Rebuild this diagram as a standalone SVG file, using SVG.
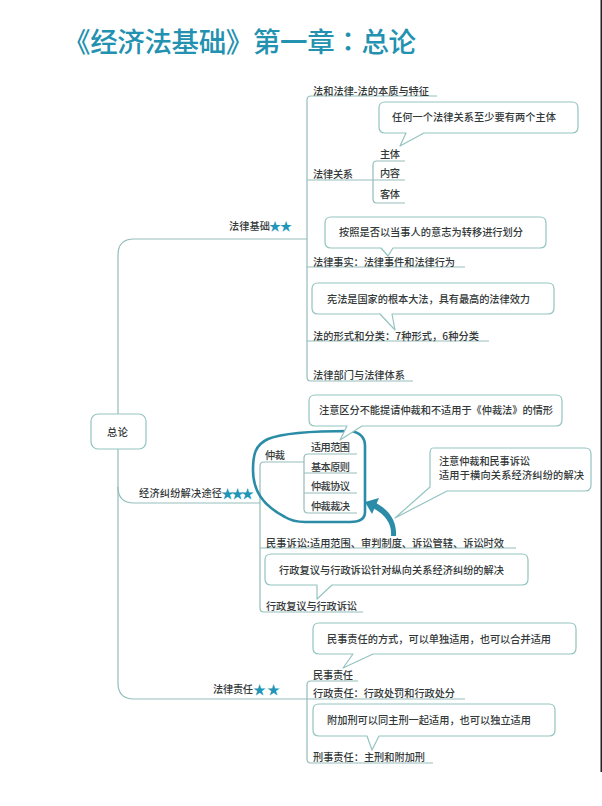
<svg xmlns="http://www.w3.org/2000/svg" width="602" height="806" viewBox="0 0 602 806">
<style>
text{font-family:"Noto Sans CJK SC","Noto Sans",sans-serif;font-size:10.2px;font-weight:500;fill:#333839}
.t{font-family:"Noto Sans CJK TC","Noto Sans CJK SC",sans-serif;font-size:27.5px;fill:#2391b0;font-weight:500}
.s{fill:#2196b8}
.l{fill:none;stroke:#93bdbb;stroke-width:1.2}
.c{fill:#fff;stroke:#93c4c0;stroke-width:1.2;stroke-linejoin:round}
.b{fill:none;stroke:#2a8ca6;stroke-width:2.6;stroke-linecap:round}
.a{fill:#2a8ca6}
</style>
<rect width="602" height="806" fill="#fff"/>
<rect x="600.5" y="0" width="1.5" height="772" fill="#222"/>
<text class="t" x="63" y="52" textLength="353">《经济法基础》第一章：总论</text>

<g id="connectors">
<path class="l" d="M437 96H311Q307 96 307 100V377Q307 381 311 381H413"/>
<path class="l" d="M307 180H405M405 161H377Q373 161 373 165V199Q373 203 377 203H405"/>
<path class="l" d="M307 239H134Q118 239 118 255V414M118 449V683Q118 699 134 699H465"/>
<path class="l" d="M118 487Q118 503 134 503H260"/>
<path class="l" d="M307 267H465M307 341H489"/>
<path class="l" d="M264 462H304M260 608V466Q260 462 264 462"/>
<path class="l" d="M357 454H308Q304 454 304 458V509Q304 513 308 513H357M304 473H357M304 493H357"/>
<path class="l" d="M260 548H516M260 608Q260 612 264 612H363"/>
<path class="l" d="M358 681H311Q307 681 307 685V759Q307 763 311 763H433"/>
<path class="b" d="M365 446Q365 433 350 431C320 431 285 432 268 439C255 445 253 455 253 470C253 490 262 505 285 517Q293 522 305 522H350Q365 522 365 512Z"/>
<path class="a" d="M391 536C392 524 386 514 369 506L372 501C390 509 397 522 396 536Z"/>
<path class="a" d="M365 502L379 498L372 514Z"/>
</g>

<g id="n-zonglun"><rect class="c" x="91" y="414" width="55" height="35" rx="7"/><text x="107" y="436" textLength="21">总论</text></g>
<g id="n-falvjichu"><text x="229" y="230" textLength="41">法律基础</text><text x="269" y="231" style="font-size:12px;fill:#2196b8" textLength="23">★★</text></g>
<g id="n-jiufen"><text x="139" y="497" textLength="83">经济纠纷解决途径</text><text x="221" y="498" style="font-size:13px;fill:#2196b8" textLength="33">★★★</text></g>
<g id="n-zeren"><text x="213" y="693" textLength="40">法律责任</text><text x="253" y="694" style="font-size:13px;fill:#2196b8" textLength="27">★★</text></g>

<g id="n-benzhi"><text x="313" y="95" textLength="116">法和法律-法的本质与特征</text></g>
<g id="n-guanxi"><text x="313" y="178" textLength="40">法律关系</text></g>
<g id="n-zhuti"><text x="380" y="158" textLength="20">主体</text></g>
<g id="n-neirong"><text x="380" y="177" textLength="20">内容</text></g>
<g id="n-keti"><text x="380" y="198" textLength="20">客体</text></g>
<g id="n-shishi"><text x="313" y="266" textLength="142">法律事实：法律事件和法律行为</text></g>
<g id="n-xingshi"><text x="313" y="340" textLength="166">法的形式和分类：7种形式，6种分类</text></g>
<g id="n-bumen"><text x="313" y="379" textLength="92">法律部门与法律体系</text></g>
<g id="n-zhongcai"><text x="265" y="459" textLength="20">仲裁</text></g>
<g id="n-shiyong"><text x="311" y="451" textLength="39">适用范围</text></g>
<g id="n-yuanze"><text x="311" y="471" textLength="39">基本原则</text></g>
<g id="n-xieyi"><text x="311" y="490" textLength="39">仲裁协议</text></g>
<g id="n-caijue"><text x="311" y="510" textLength="39">仲裁裁决</text></g>
<g id="n-minsusong"><text x="266" y="547" textLength="238">民事诉讼:适用范围、审判制度、诉讼管辖、诉讼时效</text></g>
<g id="n-xingzheng"><text x="266" y="610" textLength="91">行政复议与行政诉讼</text></g>
<g id="n-minshi"><text x="313" y="679" textLength="40">民事责任</text></g>
<g id="n-xingzhengzr"><text x="313" y="697" textLength="142">行政责任：行政处罚和行政处分</text></g>
<g id="n-xingshizr"><text x="313" y="761" textLength="112">刑事责任：主刑和附加刑</text></g>

<g id="n-note1"><path class="c" d="M385 102H572Q578 102 578 108V127Q578 133 572 133H424L400 146L406 133H385Q379 133 379 127V108Q379 102 385 102Z"/><text x="392" y="121" textLength="164">任何一个法律关系至少要有两个主体</text></g>
<g id="n-note2"><path class="c" d="M331 217H540Q546 217 546 223V242Q546 248 540 248H393L388 256L381 248H331Q325 248 325 242V223Q325 217 331 217Z"/><text x="339" y="236" textLength="184">按照是否以当事人的意志为转移进行划分</text></g>
<g id="n-note3"><path class="c" d="M318 283H548Q554 283 554 289V308Q554 314 548 314H392L395 330L380 314H318Q312 314 312 308V289Q312 283 318 283Z"/><text x="327" y="303" textLength="203">宪法是国家的根本大法，具有最高的法律效力</text></g>
<g id="n-note4"><path class="c" d="M315 395H556Q562 395 562 401V420Q562 426 556 426H362L340 440L347 426H315Q309 426 309 420V401Q309 395 315 395Z"/><text x="319" y="414" textLength="234">注意区分不能提请仲裁和不适用于《仲裁法》的情形</text></g>
<g id="n-note5"><path class="c" d="M433 448H585Q591 448 591 454V485Q591 491 585 491H447L395 518L430 487V454Q430 448 433 448Z"/><text x="439" y="465" textLength="91">注意仲裁和民事诉讼</text><text x="439" y="479" textLength="145">适用于横向关系经济纠纷的解决</text></g>
<g id="n-note6"><path class="c" d="M271 554H522Q528 554 528 560V579Q528 585 522 585H332L317 599L317 585H271Q265 585 265 579V560Q265 554 271 554Z"/><text x="279" y="574" textLength="225">行政复议与行政诉讼针对纵向关系经济纠纷的解决</text></g>
<g id="n-note7"><path class="c" d="M319 623H570Q576 623 576 629V648Q576 654 570 654H373L343 668L353 654H319Q313 654 313 648V629Q313 623 319 623Z"/><text x="327" y="643" textLength="224">民事责任的方式，可以单独适用，也可以合并适用</text></g>
<g id="n-note8"><path class="c" d="M319 704H549Q555 704 555 710V730Q555 736 549 736H379L372 750L367 736H319Q313 736 313 730V710Q313 704 319 704Z"/><text x="327" y="724" textLength="204">附加刑可以同主刑一起适用，也可以独立适用</text></g>
</svg>
